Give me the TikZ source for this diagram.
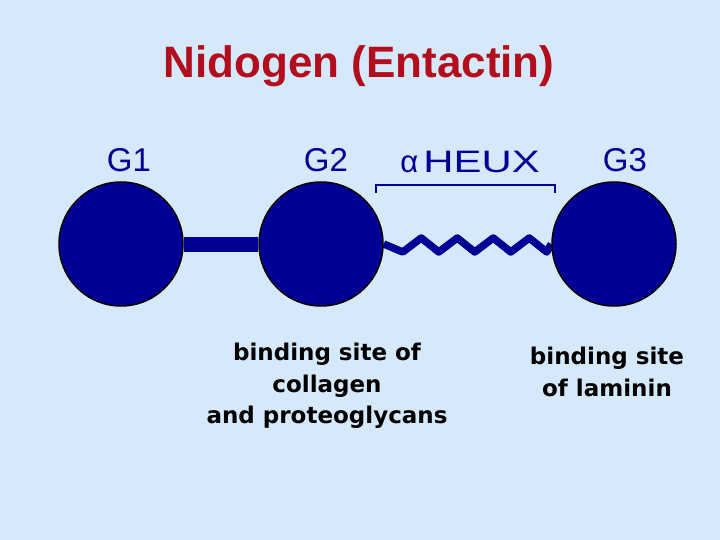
\documentclass[tikz,border=0pt]{standalone}
\usepackage{fontspec}
\setmainfont{Liberation Sans}
\newfontfamily\notefont{DejaVu Sans}
\usetikzlibrary{backgrounds}
\definecolor{slidebg}{RGB}{213,233,251}
\definecolor{nidoblue}{RGB}{0,0,150}
\definecolor{titlered}{RGB}{178,14,30}
\tikzset{
  globule/.style={circle,fill=nidoblue,draw=black,line width=1.5pt,minimum size=124pt,inner sep=0pt},
  glabel/.style={anchor=base,text=nidoblue,font=\fontsize{33}{33}\selectfont,inner sep=0pt},
  rod/.style={draw=nidoblue,line width=15pt},
  helix/.style={draw=nidoblue,line width=7.5pt,line join=round},
  brace/.style={draw=nidoblue,line width=2.5pt},
  note/.style={align=center,anchor=north,inner sep=0pt,font=\notefont\bfseries\fontsize{23}{31.5}\selectfont},
  heading/.style={anchor=base,inner sep=0pt,font=\bfseries\fontsize{44}{44}\selectfont},
}

\begin{document}
\begin{tikzpicture}[x=1pt,y=-1pt]
\useasboundingbox (0,0) rectangle (720,540);
% title
\node[heading,text=titlered] (title) at (359,78) {Nidogen (Entactin)};
% globular domains
\foreach \n/\x/\lx in {1/121/129,2/321/326,3/614/625} {
  \node[globule] (g\n) at (\x,244) {};
  \node[glabel] (lab\n) at (\lx,172) {G\n};}
\begin{pgfonlayer}{background}
\fill[slidebg] (0,0) rectangle (720,540);
\draw[rod] (g1) -- (g2);
\draw[helix] (g2.east) -- ++(19,8) \foreach \i in {1,...,4} {-- ++(18.5,-14) -- ++(17.5,14)} -- (g3.west);
\end{pgfonlayer}
% alpha helix bracket
\coordinate (hl) at (376,193);
\coordinate (hr) at (555,193);
\draw[brace] (hl) -- ++(0,-8) -| (hr);
\node[glabel,font=\fontsize{31}{31}\selectfont] (helixlab) at (470,173) {α\,\scalebox{1.35}[1]{HEUX}};
% binding sites
\node[note] (collagen) at (327,343) {binding site of\\collagen\\and proteoglycans};
\node[note] (laminin) at (607,347) {binding site\\of laminin};
\end{tikzpicture}
\end{document}
